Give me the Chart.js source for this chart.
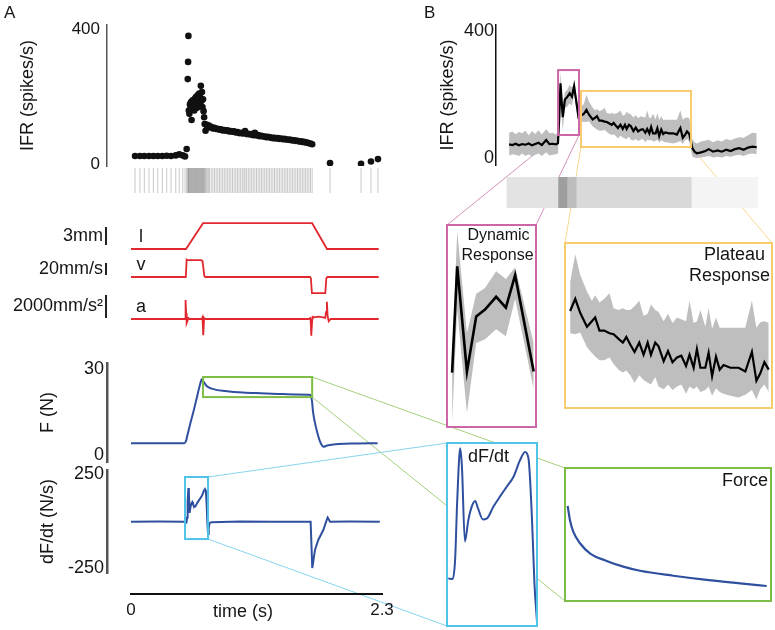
<!DOCTYPE html>
<html lang="en">
<head>
<meta charset="UTF-8">
<title>IFR, cinemática e força</title>
<script src="https://cdn.jsdelivr.net/npm/chart.js@4.4.1/dist/chart.umd.min.js"></script>
<style>
  html, body { margin: 0; padding: 0; background: #ffffff; }
  #figura { position: relative; width: 775px; height: 630px; overflow: hidden; background: #ffffff; }
  #figura canvas { position: absolute; left: 0; top: 0; }
</style>
</head>
<body>
<div id="figura"></div>
<script>
// ===== DADOS =====

// Painel A – IFR de um único trial (tempo em s, spikes/s)
const ifrTempoA = [
  0.037, 0.082, 0.122, 0.165, 0.205, 0.245, 0.287, 0.327, 0.367, 0.41, 0.442, 0.474, 0.495, 0.51,
  0.52, 0.523, 0.526,
  0.53, 0.535, 0.54, 0.545, 0.55, 0.555, 0.56, 0.565, 0.57, 0.575,
  0.58, 0.585, 0.59, 0.595, 0.6, 0.605, 0.61, 0.615, 0.62, 0.625,
  0.63, 0.635, 0.64, 0.645, 0.65, 0.655, 0.66, 0.665, 0.67,
  0.675, 0.683, 0.69, 0.7, 0.71, 0.72, 0.735, 0.75, 0.765, 0.78,
  0.795, 0.81, 0.825, 0.84, 0.855, 0.87, 0.885, 0.9, 0.915, 0.93,
  0.945, 0.96, 0.975, 0.99, 1.005, 1.02, 1.035, 1.045, 1.06, 1.075,
  1.09, 1.105, 1.12, 1.135, 1.15, 1.165, 1.18, 1.195, 1.21, 1.225,
  1.24, 1.255, 1.27, 1.285, 1.3, 1.315, 1.33, 1.345, 1.36, 1.375,
  1.39, 1.405, 1.42, 1.435, 1.45, 1.465, 1.48, 1.495, 1.51, 1.525,
  1.54, 1.555, 1.57, 1.585, 1.6, 1.615, 1.63, 1.645, 1.66,
  1.824, 2.108, 2.199, 2.263,
];
const ifrValorA = [
  25, 25, 25, 25, 25, 25, 25, 26, 25, 27, 30, 27, 24, 46,
  253, 304, 381,
  160, 150, 178, 165, 185, 132, 172, 190, 168, 180,
  160, 195, 175, 200, 185, 168, 205, 180, 190, 210,
  172, 198, 233, 188, 215, 170, 193, 158, 140,
  120, 100, 118, 112, 116, 110, 112, 107, 109, 105,
  106, 103, 104, 101, 102, 100, 101, 98, 99, 97,
  98, 95, 96, 93, 94, 92, 93, 99, 90, 91,
  89, 90, 87, 94, 86, 87, 84, 85, 83, 83,
  81, 82, 80, 80, 78, 79, 77, 78, 76, 77,
  75, 76, 74, 74, 73, 73, 71, 72, 70, 70,
  68, 69, 67, 67, 65, 65, 63, 62, 60,
  4, 2, 9, 16,
];
const ticksIfr = [0, 400];

// Cinemática do estímulo: comprimento (mm), velocidade (mm/s), aceleração (mm/s²)
const compTempo = [0, 0.504, 0.66, 1.66, 1.796, 2.27];
const compValor = [0, 0, 4.3, 4.3, 0, 0];
const velTempo = [0, 0.502, 0.51, 0.52, 0.64, 0.655, 0.672, 0.68, 1.64, 1.648, 1.658, 1.78, 1.79, 1.8, 2.27];
const velValor = [0, 0, 29, 28, 28, 27, 2, 0, 0, -2, -27, -27, -2, 0, 0];
const acelTempo = [
  0, 0.495, 0.5, 0.505, 0.51, 0.518, 0.525, 0.535, 0.6, 0.648, 0.655, 0.662, 0.67, 0.68,
  1.63, 1.645, 1.652, 1.66, 1.668, 1.68, 1.72, 1.76, 1.78, 1.787, 1.795, 1.802, 1.812, 1.83, 2.27,
];
const acelValor = [
  0, 0, 1650, 500, -350, -150, 80, 0, 0, 0, 150, -1400, 100, 0,
  0, 100, -1450, -100, 200, 150, 200, 150, 100, 600, 1500, 200, -200, 0, 0,
];
const barraValor = [3, 20, 2000];
const barraRotulo = ["3mm", "20mm/s", "2000mm/s\u00B2"];
const rotulosCinematica = ["l", "v", "a"];

// Força (N)
const forcaSubidaTempo = [0, 0.49, 0.505, 0.515, 0.54, 0.57, 0.6, 0.625, 0.64, 0.648, 0.655];
const forcaSubidaValor = [4.1, 4.1, 5.0, 6.6, 10.5, 14.8, 19.5, 23.5, 25.6, 26.4, 25.9];
const forcaPlatoTempo = [0.673, 0.684, 0.7, 0.733, 0.781, 0.862, 0.943, 1.024, 1.186, 1.348, 1.51, 1.639];
const forcaPlatoValor = [25.2, 24.46, 23.85, 23.24, 22.71, 22.31, 22.01, 21.79, 21.53, 21.31, 21.13, 20.99];
const forcaDescidaTempo = [1.648, 1.658, 1.668, 1.69, 1.713, 1.74, 1.765, 1.79, 1.823, 1.9, 2.05, 2.26];
const forcaDescidaValor = [20.6, 19.0, 15.0, 10.5, 7.0, 4.0, 2.9, 3.2, 3.5, 3.8, 4.0, 4.1];
const ticksForca = [0, 30];

// dF/dt (N/s)
const dfdtAntesTempo = [0, 0.25, 0.49];
const dfdtAntesValor = [-4, -3, -4];
const dfdtDinTempo = [
  0.498, 0.508, 0.514, 0.519, 0.526, 0.53, 0.537, 0.545, 0.553, 0.561, 0.568, 0.579,
  0.588, 0.604, 0.619, 0.635, 0.651, 0.666, 0.678, 0.686, 0.694, 0.7, 0.706,
];
const dfdtDinValor = [
  -8, -9, 18, 102, 175, 149, 44, 74, 93, 101, 90, 75,
  76, 93, 107, 121, 135, 158, 170, 161, 79, -15, -69,
];
const dfdtDepoisTempo = [0.712, 0.72, 0.74, 1.0, 1.3, 1.646, 1.661, 1.686, 1.716, 1.762, 1.793, 1.802, 1.824, 2.0, 2.28];
const dfdtDepoisValor = [-37, -11, -6, -3, -4, -4, -250, -154, -101, -48, 5, 18, -4, -3, -4];
const ticksDfdt = [-250, 250];
const ticksTempo = [0, 2.3];

// Painel B – IFR médio (linha) e dispersão (faixa cinza)
const ifrBBaseTempo = [0.04, 0.07, 0.1, 0.13, 0.16, 0.19, 0.22, 0.25, 0.28, 0.31, 0.34, 0.38, 0.41, 0.44, 0.47, 0.488];
const ifrBBaseMedia = [43, 41, 45, 40, 44, 42, 46, 40, 44, 48, 41, 57, 44, 45, 43, 47];
const ifrBBaseSup = [80, 84, 75, 82, 78, 86, 72, 85, 76, 88, 74, 92, 78, 80, 74, 82];
const ifrBBaseInf = [8, 12, 10, 6, 14, 6, 12, 5, 10, 14, 6, 18, 8, 10, 12, 14];

const dinTempo = [0.5, 0.511, 0.532, 0.552, 0.571, 0.595, 0.616, 0.636, 0.676];
const dinMedia = [128, 236, 129, 185, 192, 205, 194, 227, 129];
const dinSup = [141, 272, 168, 208, 214, 231, 223, 235, 158];
const dinInf = [77, 192, 87, 158, 162, 172, 165, 203, 111];

const platoTempo = [
  0.724, 0.749, 0.773, 0.806, 0.83, 0.846, 0.867, 0.89, 0.916, 0.936,
  0.96, 0.981, 0.998, 1.017, 1.038, 1.061, 1.082, 1.102, 1.118, 1.139,
  1.155, 1.18, 1.201, 1.223, 1.245, 1.266, 1.289, 1.306, 1.326, 1.342,
  1.359, 1.383, 1.399, 1.416, 1.435, 1.453, 1.472, 1.505, 1.545, 1.578,
  1.61, 1.632, 1.651, 1.671, 1.692,
];
const platoMedia = [
  139, 152, 137, 122, 128, 132, 118, 118, 115, 114,
  109, 105, 111, 103, 95, 105, 92, 105, 92, 105,
  101, 85, 96, 84, 89, 91, 80, 92, 78, 98,
  78, 78, 94, 69, 90, 76, 81, 78, 78, 74,
  95, 64, 72, 84, 76,
];
const platoSup = [
  170, 200, 178, 160, 150, 156, 148, 152, 158, 142,
  140, 142, 140, 140, 144, 150, 134, 136, 146, 140,
  138, 128, 136, 126, 132, 130, 128, 150, 126, 128,
  140, 122, 142, 120, 132, 121, 121, 121, 121, 121,
  150, 121, 127, 128, 126,
];
const platoInf = [
  115, 114, 116, 100, 94, 90, 86, 86, 89, 82,
  76, 73, 75, 70, 62, 70, 65, 62, 60, 68,
  58, 55, 60, 54, 58, 60, 50, 58, 55, 58,
  52, 54, 58, 48, 56, 52, 50, 48, 46, 49,
  54, 44, 55, 60, 52,
];

const ifrBPosTempo = [1.72, 1.74, 1.76, 1.8, 1.84, 1.87, 1.91, 1.95, 1.99, 2.03, 2.07, 2.11, 2.15, 2.19, 2.23, 2.27, 2.31];
const ifrBPosMedia = [31, 20, 15, 18, 22, 28, 20, 24, 20, 26, 22, 28, 31, 26, 33, 36, 34];
const ifrBPosSup = [60, 50, 46, 52, 55, 58, 50, 56, 52, 60, 56, 62, 66, 64, 72, 80, 78];
const ifrBPosInf = [5, 2, 0, 2, 4, 6, 2, 4, 2, 6, 4, 8, 10, 6, 12, 14, 12];

// Raster B: densidade de spikes por trecho
const rasterBInicio = [0.02, 0.488, 0.57, 0.655, 1.71];
const rasterBFim = [0.488, 0.57, 0.655, 1.71, 2.32];
const rasterBDensidade = [0.11, 0.38, 0.26, 0.15, 0.045];

// Janelas ampliadas [t0, t1, y0, y1]
const janelaForca = [0.66, 1.66, 20.2, 27.2];
const janelaDfdt = [0.495, 0.706, -96, 234];
const janelaDinamica = [0.489, 0.681, 72.7, 278];
const janelaPlato = [0.699, 1.708, 34.8, 212];
const escalaDfdtZoom = [-75, 182.5];

// ===== ESTILO / LAYOUT =====
const LARGURA = 775;
const ALTURA = 630;
const FONTE = "'Liberation Sans', Arial, Helvetica, sans-serif";
const COR_TEXTO = "#151515";
const AZUL = "#2f4f9f";
const VERMELHO = "#e0282e";
const CINZA_FAIXA = "#bebebe";
const COR_VERDE = "#7dbd45";
const COR_CIANO = "#4fc3e8";
const COR_ROSA = "#cc66a8";
const COR_AMARELO = "#f8cb6c";

Chart.defaults.font.family = FONTE;
Chart.defaults.color = COR_TEXTO;
Chart.defaults.animation = false;

const figura = document.getElementById("figura");
let camada = 0;

function criarCanvas() {
  const canvas = document.createElement("canvas");
  canvas.width = LARGURA;
  canvas.height = ALTURA;
  canvas.style.zIndex = camada++;
  figura.appendChild(canvas);
  return canvas.getContext("2d");
}

function opcoesBase(area, escalas, eixoEsq = 0, eixoBaixo = 0, extra = {}) {
  return Object.assign({
    responsive: false,
    animation: false,
    events: [],
    layout: {
      autoPadding: false,
      padding: {
        left: area.l - eixoEsq,
        top: area.t,
        right: LARGURA - area.r,
        bottom: ALTURA - area.b - eixoBaixo,
      },
    },
    plugins: { legend: { display: false }, tooltip: { enabled: false } },
    scales: escalas,
  }, extra);
}

function eixoOculto(min, max) {
  return { type: "linear", display: false, min, max };
}

function eixoYComTicks(cfg) {
  return {
    type: "linear",
    position: "left",
    min: cfg.min,
    max: cfg.max,
    afterBuildTicks: (escala) => {
      escala.ticks = cfg.ticks.map((v) => ({ value: v }));
    },
    afterFit: (escala) => {
      escala.width = cfg.largura;
    },
    grid: { display: false, drawTicks: false },
    border: { display: true, color: cfg.corEixo, width: cfg.espessura },
    ticks: {
      padding: cfg.pad,
      font: { size: cfg.fonte },
      color: COR_TEXTO,
      callback: (v) => String(v),
    },
    title: {
      display: true,
      text: cfg.titulo,
      color: COR_TEXTO,
      font: { size: 18 },
      padding: { top: cfg.padTitulo, bottom: 0 },
    },
  };
}

function pontos(tempos, valores) {
  return tempos.map((t, i) => ({ x: t, y: valores[i] }));
}

function serie(tempos, valores, cor, largura, extra = {}) {
  return Object.assign({
    data: pontos(tempos, valores),
    borderColor: cor,
    borderWidth: largura,
    pointRadius: 0,
    tension: 0,
    fill: false,
  }, extra);
}

function faixaPorBase(basePx, pxPorUnidade, area) {
  return {
    min: (basePx - area.b) / pxPorUnidade,
    max: (basePx - area.t) / pxPorUnidade,
  };
}

// caixa desenhada em coordenadas de dados
function pluginCaixaDados(cor, janela) {
  return {
    id: "caixaDados",
    afterDatasetsDraw(chart) {
      const { ctx, scales } = chart;
      const x0 = scales.x.getPixelForValue(janela[0]);
      const x1 = scales.x.getPixelForValue(janela[1]);
      const y0 = scales.y.getPixelForValue(janela[2]);
      const y1 = scales.y.getPixelForValue(janela[3]);
      ctx.save();
      ctx.strokeStyle = cor;
      ctx.lineWidth = 2;
      ctx.strokeRect(x0, y1, x1 - x0, y0 - y1);
      ctx.restore();
    },
  };
}

// painel ampliado: fundo branco, moldura e textos
function pluginPainelZoom(cor, textos) {
  return {
    id: "painelZoom",
    beforeDraw(chart) {
      const { ctx, chartArea: a } = chart;
      ctx.save();
      ctx.fillStyle = "#ffffff";
      ctx.fillRect(a.left, a.top, a.right - a.left, a.bottom - a.top);
      ctx.restore();
    },
    afterDraw(chart) {
      const { ctx, chartArea: a } = chart;
      ctx.save();
      ctx.strokeStyle = cor;
      ctx.lineWidth = 2;
      ctx.strokeRect(a.left, a.top, a.right - a.left, a.bottom - a.top);
      ctx.fillStyle = COR_TEXTO;
      ctx.textBaseline = "middle";
      textos.forEach((t) => {
        ctx.font = `${t.tamanho}px ${FONTE}`;
        let x = a.left + t.dx;
        if (t.ancora === "centro") x = (a.left + a.right) / 2 + t.dx;
        if (t.ancora === "direita") x = a.right + t.dx;
        ctx.textAlign = t.ancora === "centro" ? "center" : t.ancora === "direita" ? "right" : "left";
        ctx.fillText(t.texto, x, a.top + t.dy);
      });
      ctx.restore();
    },
  };
}

const pluginCinematica = {
  id: "barrasEscala",
  afterDraw(chart) {
    const { ctx, chartArea } = chart;
    const eixos = ["yl", "yv", "ya"];
    const inicioBarra = [0.67, 3.3, 87];
    ctx.save();
    eixos.forEach((id, i) => {
      const escala = chart.scales[id];
      const yA = escala.getPixelForValue(inicioBarra[i]);
      const yB = escala.getPixelForValue(inicioBarra[i] + barraValor[i]);
      const x = chartArea.left - 1;
      ctx.strokeStyle = "#222";
      ctx.lineWidth = 2;
      ctx.beginPath();
      ctx.moveTo(x, yA);
      ctx.lineTo(x, yB);
      ctx.stroke();
      ctx.fillStyle = COR_TEXTO;
      ctx.font = `18px ${FONTE}`;
      ctx.textAlign = "right";
      ctx.textBaseline = "middle";
      ctx.fillText(barraRotulo[i], x - 3, (yA + yB) / 2);
      ctx.textAlign = "center";
      ctx.fillText(rotulosCinematica[i], chartArea.left + 34, escala.getPixelForValue(0) - 12);
    });
    ctx.restore();
  },
};

const pluginTituloTempo = {
  id: "tituloTempo",
  afterDraw(chart) {
    const { ctx } = chart;
    ctx.save();
    ctx.fillStyle = COR_TEXTO;
    ctx.font = `18px ${FONTE}`;
    ctx.textAlign = "center";
    ctx.textBaseline = "middle";
    ctx.fillText("time (s)", 243, 612);
    ctx.restore();
  },
};

function cinzaDensidade(d) {
  const g = Math.round(255 * (1 - d));
  return `rgb(${g},${g},${g})`;
}

// ===== MONTAGEM =====
const ctxFundo = criarCanvas();

const forcaTempo = [...forcaSubidaTempo, ...forcaPlatoTempo, ...forcaDescidaTempo];
const forcaValor = [...forcaSubidaValor, ...forcaPlatoValor, ...forcaDescidaValor];
const dfdtTempo = [...dfdtAntesTempo, ...dfdtDinTempo, ...dfdtDepoisTempo];
const dfdtValor = [...dfdtAntesValor, ...dfdtDinValor, ...dfdtDepoisValor];

const ifrBTempo = [...ifrBBaseTempo, ...dinTempo, ...platoTempo, ...ifrBPosTempo];
const ifrBMedia = [...ifrBBaseMedia, ...dinMedia, ...platoMedia, ...ifrBPosMedia];
const ifrBSup = [...ifrBBaseSup, ...dinSup, ...platoSup, ...ifrBPosSup];
const ifrBInf = [...ifrBBaseInf, ...dinInf, ...platoInf, ...ifrBPosInf];

const X_A = [-0.22, 2.3];
const X_B = [-0.08, 2.34];

// IFR A
const areaIfrA = { l: 107, t: 25, r: 382, b: 166 };
new Chart(criarCanvas(), {
  type: "scatter",
  data: {
    datasets: [{
      data: pontos(ifrTempoA, ifrValorA),
      backgroundColor: "#111111",
      borderWidth: 0,
      pointRadius: 3.3,
    }],
  },
  options: opcoesBase(areaIfrA, {
    x: eixoOculto(X_A[0], X_A[1]),
    y: eixoYComTicks({
      min: -4.44, max: 413.3, ticks: ticksIfr, largura: 100, pad: 7, fonte: 17,
      titulo: "IFR (spikes/s)", padTitulo: 10.7, corEixo: "#555", espessura: 1.5,
    }),
  }, 100),
});

// Raster A (mesmos tempos de spike)
const areaRasterA = { l: 107, t: 168, r: 382, b: 193 };
new Chart(criarCanvas(), {
  type: "scatter",
  data: {
    datasets: [{
      data: ifrTempoA.map((t) => ({ x: t, y: 0.5 })),
      pointStyle: "line",
      rotation: 90,
      pointRadius: 12.5,
      borderColor: "rgba(110,110,110,0.38)",
      borderWidth: 1,
    }],
  },
  options: opcoesBase(areaRasterA, { x: eixoOculto(X_A[0], X_A[1]), y: eixoOculto(0, 1) }),
});

// Cinemática
const areaCin = { l: 107, t: 205, r: 382, b: 345 };
const faixaL = faixaPorBase(249, 6, areaCin);
const faixaV = faixaPorBase(277, 0.6, areaCin);
const faixaA = faixaPorBase(319, 0.0115, areaCin);
new Chart(criarCanvas(), {
  type: "line",
  data: {
    datasets: [
      serie(compTempo, compValor, VERMELHO, 1.8, { yAxisID: "yl" }),
      serie(velTempo, velValor, VERMELHO, 1.8, { yAxisID: "yv" }),
      serie(acelTempo, acelValor, VERMELHO, 1.8, { yAxisID: "ya" }),
    ],
  },
  options: opcoesBase(areaCin, {
    x: eixoOculto(X_A[0], X_A[1]),
    yl: eixoOculto(faixaL.min, faixaL.max),
    yv: eixoOculto(faixaV.min, faixaV.max),
    ya: eixoOculto(faixaA.min, faixaA.max),
  }),
  plugins: [pluginCinematica],
});

// Força A
const areaForca = { l: 107, t: 363, r: 382, b: 462 };
const graficoForca = new Chart(criarCanvas(), {
  type: "line",
  data: { datasets: [serie(forcaTempo, forcaValor, AZUL, 2, { cubicInterpolationMode: "monotone" })] },
  options: opcoesBase(areaForca, {
    x: eixoOculto(X_A[0], X_A[1]),
    y: eixoYComTicks({
      min: -2.44, max: 32.09, ticks: ticksForca, largura: 100, pad: 3, fonte: 18,
      titulo: "F (N)", padTitulo: 30, corEixo: "#555", espessura: 2.5,
    }),
  }, 100),
  plugins: [pluginCaixaDados(COR_VERDE, janelaForca)],
});

// dF/dt A
const areaDfdt = { l: 107, t: 470, r: 382, b: 573 };
const graficoDfdt = new Chart(criarCanvas(), {
  type: "line",
  data: { datasets: [serie(dfdtTempo, dfdtValor, AZUL, 2)] },
  options: opcoesBase(areaDfdt, {
    x: eixoOculto(X_A[0], X_A[1]),
    y: eixoYComTicks({
      min: -276.6, max: 271.3, ticks: ticksDfdt, largura: 100, pad: 3, fonte: 18,
      titulo: "dF/dt (N/s)", padTitulo: 30, corEixo: "#555", espessura: 2.5,
    }),
  }, 100),
  plugins: [pluginCaixaDados(COR_CIANO, janelaDfdt)],
});

// Eixo de tempo
const areaTempo = { l: 131, t: 590, r: 382, b: 594 };
new Chart(criarCanvas(), {
  type: "line",
  data: { datasets: [] },
  options: opcoesBase(areaTempo, {
    x: {
      type: "linear",
      position: "bottom",
      min: 0,
      max: 2.3,
      afterBuildTicks: (escala) => {
        escala.ticks = ticksTempo.map((v) => ({ value: v }));
      },
      afterFit: (escala) => {
        escala.height = 30;
      },
      grid: { display: false, drawTicks: false },
      border: { display: true, color: "#111", width: 2 },
      ticks: { padding: 6, font: { size: 17 }, color: COR_TEXTO, maxRotation: 0, autoSkip: false, callback: (v) => String(v) },
    },
    y: eixoOculto(0, 1),
  }, 0, 30),
  plugins: [pluginTituloTempo],
});

// IFR B
const areaIfrB = { l: 496, t: 25, r: 760, b: 165 };
const graficoIfrB = new Chart(criarCanvas(), {
  type: "line",
  data: {
    datasets: [
      serie(ifrBTempo, ifrBMedia, "#000000", 2.2),
      serie(ifrBTempo, ifrBSup, CINZA_FAIXA, 0, { fill: "+1", backgroundColor: CINZA_FAIXA }),
      serie(ifrBTempo, ifrBInf, CINZA_FAIXA, 0),
    ],
  },
  options: opcoesBase(areaIfrB, {
    x: eixoOculto(X_B[0], X_B[1]),
    y: eixoYComTicks({
      min: -22.1, max: 420.5, ticks: ticksIfr, largura: 60, pad: 2, fonte: 18,
      titulo: "IFR (spikes/s)", padTitulo: 1.7, corEixo: "#111", espessura: 1.5,
    }),
  }, 60),
  plugins: [
    pluginCaixaDados(COR_ROSA, janelaDinamica),
    pluginCaixaDados(COR_AMARELO, janelaPlato),
  ],
});

// Raster B
const areaRasterB = { l: 496, t: 177, r: 760, b: 208 };
new Chart(criarCanvas(), {
  type: "bar",
  data: {
    labels: ["raster"],
    datasets: rasterBInicio.map((ini, i) => ({
      data: [[ini, rasterBFim[i]]],
      backgroundColor: cinzaDensidade(rasterBDensidade[i]),
      borderWidth: 0,
      grouped: false,
      barPercentage: 1,
      categoryPercentage: 1,
    })),
  },
  options: opcoesBase(areaRasterB, {
    x: eixoOculto(X_B[0], X_B[1]),
    y: { type: "category", display: false },
  }, 0, 0, { indexAxis: "y" }),
});

// Ampliação: resposta dinâmica
const areaDin = { l: 447, t: 225, r: 536, b: 427 };
const graficoDin = new Chart(criarCanvas(), {
  type: "line",
  data: {
    datasets: [
      serie(dinTempo, dinMedia, "#000000", 2.6),
      serie(dinTempo, dinSup, CINZA_FAIXA, 0, { fill: "+1", backgroundColor: CINZA_FAIXA }),
      serie(dinTempo, dinInf, CINZA_FAIXA, 0),
    ],
  },
  options: opcoesBase(areaDin, {
    x: eixoOculto(janelaDinamica[0], janelaDinamica[1]),
    y: eixoOculto(janelaDinamica[2], janelaDinamica[3]),
  }),
  plugins: [pluginPainelZoom(COR_ROSA, [
    { texto: "Dynamic", ancora: "centro", dx: 7, dy: 11, tamanho: 16 },
    { texto: "Response", ancora: "centro", dx: 6, dy: 31, tamanho: 16 },
  ])],
});

// Ampliação: resposta de platô
const areaPlato = { l: 565, t: 243, r: 772, b: 408 };
const graficoPlato = new Chart(criarCanvas(), {
  type: "line",
  data: {
    datasets: [
      serie(platoTempo, platoMedia, "#000000", 2.2),
      serie(platoTempo, platoSup, CINZA_FAIXA, 0, { fill: "+1", backgroundColor: CINZA_FAIXA }),
      serie(platoTempo, platoInf, CINZA_FAIXA, 0),
    ],
  },
  options: opcoesBase(areaPlato, {
    x: eixoOculto(janelaPlato[0], janelaPlato[1]),
    y: eixoOculto(janelaPlato[2], janelaPlato[3]),
  }),
  plugins: [pluginPainelZoom(COR_AMARELO, [
    { texto: "Plateau", ancora: "direita", dx: -7, dy: 12, tamanho: 18 },
    { texto: "Response", ancora: "direita", dx: -2, dy: 33, tamanho: 18 },
  ])],
});

// Ampliação: dF/dt
const areaDfdtZoom = { l: 447, t: 443, r: 537, b: 626 };
const graficoDfdtZoom = new Chart(criarCanvas(), {
  type: "line",
  data: { datasets: [serie(dfdtDinTempo, dfdtDinValor, AZUL, 2, { cubicInterpolationMode: "monotone" })] },
  options: opcoesBase(areaDfdtZoom, {
    x: eixoOculto(janelaDfdt[0], janelaDfdt[1]),
    y: eixoOculto(escalaDfdtZoom[0], escalaDfdtZoom[1]),
  }),
  plugins: [pluginPainelZoom(COR_CIANO, [
    { texto: "dF/dt", ancora: "esquerda", dx: 21, dy: 14, tamanho: 18 },
  ])],
});

// Ampliação: força
const areaForcaZoom = { l: 565, t: 468, r: 771, b: 601 };
const graficoForcaZoom = new Chart(criarCanvas(), {
  type: "line",
  data: { datasets: [serie(forcaPlatoTempo, forcaPlatoValor, AZUL, 2.2, { cubicInterpolationMode: "monotone" })] },
  options: opcoesBase(areaForcaZoom, {
    x: eixoOculto(janelaForca[0], janelaForca[1]),
    y: eixoOculto(janelaForca[2], janelaForca[3]),
  }),
  plugins: [pluginPainelZoom(COR_VERDE, [
    { texto: "Force", ancora: "direita", dx: -3, dy: 13, tamanho: 18 },
  ])],
});

// ===== LIGAÇÕES ENTRE CAIXAS =====
function cantosDados(chart, janela) {
  const { x, y } = chart.scales;
  return {
    l: x.getPixelForValue(janela[0]),
    r: x.getPixelForValue(janela[1]),
    b: y.getPixelForValue(janela[2]),
    t: y.getPixelForValue(janela[3]),
  };
}

function linha(ctx, cor, x1, y1, x2, y2) {
  ctx.strokeStyle = cor;
  ctx.lineWidth = 1;
  ctx.beginPath();
  ctx.moveTo(x1, y1);
  ctx.lineTo(x2, y2);
  ctx.stroke();
}

function desenharLigacoes() {
  const ctx = ctxFundo;
  ctx.save();

  const cF = cantosDados(graficoForca, janelaForca);
  const zF = graficoForcaZoom.chartArea;
  linha(ctx, "#a3d17a", cF.r, cF.t, zF.left, zF.top);
  linha(ctx, "#a3d17a", cF.r, cF.b, zF.left, zF.bottom);

  const cD = cantosDados(graficoDfdt, janelaDfdt);
  const zD = graficoDfdtZoom.chartArea;
  linha(ctx, "#86d5ef", cD.r, cD.t, zD.left, zD.top);
  linha(ctx, "#86d5ef", cD.r, cD.b, zD.left, zD.bottom);

  const cR = cantosDados(graficoIfrB, janelaDinamica);
  const zR = graficoDin.chartArea;
  linha(ctx, "#d690bd", cR.l, cR.b, zR.left, zR.top);
  linha(ctx, "#d690bd", cR.r, cR.b, zR.right, zR.top);

  const cP = cantosDados(graficoIfrB, janelaPlato);
  const zP = graficoPlato.chartArea;
  linha(ctx, "#f8d690", cP.l, cP.b, zP.left, zP.top);
  linha(ctx, "#f8d690", cP.r, cP.b, zP.right, zP.top);

  ctx.fillStyle = COR_TEXTO;
  ctx.font = `17px ${FONTE}`;
  ctx.textBaseline = "middle";
  ctx.textAlign = "left";
  ctx.fillText("A", 4, 13);
  ctx.fillText("B", 424, 13);
  ctx.restore();
}

desenharLigacoes();
</script>
</body>
</html>
